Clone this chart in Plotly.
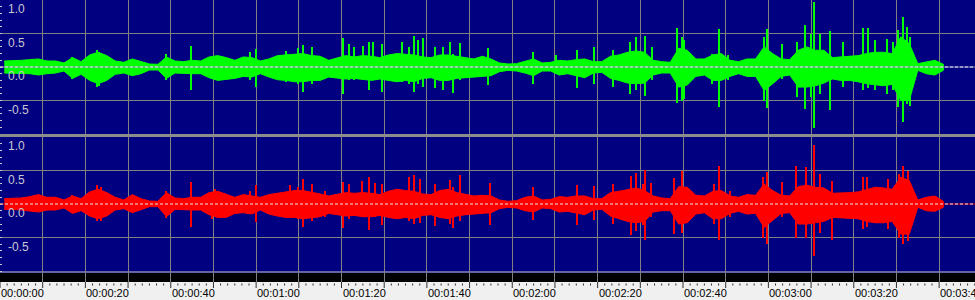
import plotly.graph_objects as go

# ---------------- data ----------------
BIN_S = 2.0          # body envelope bin width, seconds
X_MAX = 228.4        # visible time span, seconds

# Left (green) channel: body envelope per 2 s bin (upper amplitude, lower magnitude)
green_top = [0.09, 0.09, 0.10, 0.11, 0.12, 0.09, 0.09, 0.06, 0.14, 0.08,
             0.18, 0.22, 0.17, 0.09, 0.07, 0.12, 0.08, 0.045, 0.04, 0.15,
             0.09, 0.08, 0.10, 0.09, 0.15, 0.17, 0.14, 0.10, 0.15, 0.14,
             0.09, 0.12, 0.17, 0.18, 0.20, 0.20, 0.17, 0.16, 0.10, 0.14,
             0.17, 0.15, 0.17, 0.16, 0.14, 0.18, 0.20, 0.19, 0.18, 0.15,
             0.14, 0.18, 0.18, 0.16, 0.14, 0.12, 0.16, 0.12, 0.06, 0.045,
             0.05, 0.09, 0.12, 0.06, 0.07, 0.10, 0.09, 0.11, 0.12, 0.08,
             0.08, 0.16, 0.18, 0.22, 0.24, 0.22, 0.10, 0.08, 0.07, 0.28,
             0.25, 0.12, 0.12, 0.18, 0.20, 0.10, 0.08, 0.12, 0.12, 0.30,
             0.20, 0.12, 0.11, 0.25, 0.30, 0.25, 0.25, 0.14, 0.15, 0.16,
             0.17, 0.20, 0.22, 0.22, 0.20, 0.45, 0.35, 0.05, 0.08, 0.10,
             0.04]
green_bot = [0.09, 0.09, 0.10, 0.10, 0.12, 0.10, 0.09, 0.06, 0.17, 0.11,
             0.20, 0.25, 0.20, 0.11, 0.09, 0.13, 0.10, 0.045, 0.045, 0.17,
             0.09, 0.09, 0.10, 0.10, 0.16, 0.20, 0.18, 0.17, 0.14, 0.15,
             0.10, 0.15, 0.19, 0.20, 0.22, 0.22, 0.20, 0.20, 0.15, 0.17,
             0.18, 0.17, 0.19, 0.20, 0.18, 0.20, 0.22, 0.20, 0.22, 0.17,
             0.16, 0.20, 0.20, 0.17, 0.16, 0.14, 0.14, 0.13, 0.07, 0.05,
             0.06, 0.09, 0.13, 0.06, 0.06, 0.12, 0.10, 0.13, 0.16, 0.09,
             0.08, 0.17, 0.20, 0.24, 0.25, 0.24, 0.12, 0.09, 0.09, 0.30,
             0.27, 0.14, 0.12, 0.20, 0.20, 0.14, 0.10, 0.14, 0.14, 0.35,
             0.25, 0.14, 0.12, 0.30, 0.30, 0.28, 0.24, 0.18, 0.20, 0.20,
             0.22, 0.25, 0.27, 0.28, 0.26, 0.50, 0.50, 0.05, 0.10, 0.12,
             0.05]

# Left channel spikes: time (s), upper peak, lower peak magnitude
green_spike_t = [16.9, 22.7, 23.2, 38.9, 44.8, 58.6, 60.0, 67.0, 69.8, 71.0,
                 73.1, 80.4, 81.8, 82.9, 85.1, 86.5, 87.4, 89.5, 94.2, 95.8,
                 97.0, 97.9, 99.1, 101.9, 103.8, 105.4, 106.1, 107.8, 114.3, 124.9,
                 130.3, 135.2, 139.2, 143.6, 147.6, 149.0, 151.1, 152.8, 158.6, 159.8,
                 160.3, 166.8, 168.5, 170.6, 179.0, 179.7, 183.2, 186.7, 188.6, 190.0,
                 190.7, 192.1, 194.5, 197.5, 202.2, 203.4, 205.0, 207.8, 209.2, 210.4,
                 211.6, 212.5, 213.2]
green_spike_top = [0.15, 0.25, 0.22, 0.20, 0.31, 0.23, 0.27, 0.24, 0.28, 0.33,
                   0.30, 0.44, 0.35, 0.30, 0.32, 0.37, 0.38, 0.35, 0.38, 0.30,
                   0.47, 0.40, 0.43, 0.30, 0.30, 0.38, 0.20, 0.36, 0.28, 0.23,
                   0.18, 0.26, 0.30, 0.26, 0.38, 0.45, 0.46, 0.30, 0.58, 0.45,
                   0.40, 0.20, 0.57, 0.18, 0.45, 0.56, 0.35, 0.38, 0.63, 0.50,
                   0.975, 0.50, 0.53, 0.38, 0.58, 0.58, 0.40, 0.42, 0.38, 0.55,
                   0.75, 0.60, 0.45]
green_spike_bot = [0.18, 0.30, 0.28, 0.20, 0.34, 0.20, 0.30, 0.22, 0.25, 0.37,
                   0.26, 0.40, 0.20, 0.20, 0.18, 0.34, 0.20, 0.37, 0.22, 0.25,
                   0.37, 0.25, 0.30, 0.32, 0.34, 0.20, 0.39, 0.20, 0.27, 0.25,
                   0.10, 0.32, 0.25, 0.30, 0.40, 0.35, 0.44, 0.20, 0.54, 0.50,
                   0.48, 0.25, 0.59, 0.20, 0.50, 0.61, 0.18, 0.45, 0.62, 0.45,
                   0.91, 0.40, 0.64, 0.30, 0.35, 0.32, 0.35, 0.40, 0.35, 0.60,
                   0.82, 0.55, 0.58]

# Right (red) channel
red_top = [0.08, 0.08, 0.09, 0.11, 0.14, 0.10, 0.10, 0.06, 0.12, 0.08,
           0.18, 0.22, 0.17, 0.10, 0.06, 0.14, 0.08, 0.045, 0.04, 0.17,
           0.09, 0.08, 0.10, 0.10, 0.17, 0.19, 0.15, 0.10, 0.14, 0.12,
           0.10, 0.14, 0.16, 0.17, 0.20, 0.20, 0.18, 0.15, 0.12, 0.15,
           0.17, 0.16, 0.17, 0.16, 0.14, 0.19, 0.22, 0.20, 0.19, 0.15,
           0.14, 0.20, 0.22, 0.17, 0.14, 0.12, 0.13, 0.12, 0.06, 0.04,
           0.05, 0.10, 0.12, 0.06, 0.07, 0.11, 0.10, 0.12, 0.12, 0.08,
           0.08, 0.17, 0.19, 0.22, 0.24, 0.20, 0.12, 0.09, 0.08, 0.26,
           0.25, 0.13, 0.12, 0.19, 0.20, 0.12, 0.10, 0.14, 0.13, 0.30,
           0.20, 0.13, 0.12, 0.26, 0.28, 0.25, 0.24, 0.16, 0.16, 0.17,
           0.18, 0.22, 0.25, 0.24, 0.22, 0.40, 0.35, 0.06, 0.10, 0.12,
           0.04]
red_bot = [0.08, 0.08, 0.09, 0.10, 0.12, 0.09, 0.09, 0.06, 0.14, 0.10,
           0.18, 0.22, 0.18, 0.09, 0.07, 0.13, 0.09, 0.04, 0.04, 0.19,
           0.08, 0.08, 0.09, 0.09, 0.16, 0.20, 0.20, 0.14, 0.13, 0.15,
           0.09, 0.15, 0.18, 0.20, 0.20, 0.22, 0.20, 0.19, 0.14, 0.16,
           0.18, 0.17, 0.19, 0.19, 0.17, 0.20, 0.22, 0.20, 0.22, 0.17,
           0.16, 0.20, 0.22, 0.18, 0.16, 0.14, 0.14, 0.13, 0.07, 0.05,
           0.06, 0.10, 0.12, 0.06, 0.07, 0.12, 0.11, 0.14, 0.16, 0.09,
           0.08, 0.18, 0.22, 0.26, 0.28, 0.26, 0.12, 0.10, 0.10, 0.30,
           0.28, 0.15, 0.13, 0.22, 0.22, 0.14, 0.11, 0.15, 0.14, 0.35,
           0.25, 0.14, 0.13, 0.30, 0.30, 0.28, 0.26, 0.20, 0.20, 0.21,
           0.22, 0.26, 0.28, 0.28, 0.26, 0.45, 0.45, 0.05, 0.10, 0.11,
           0.05]

red_spike_t = [16.9, 22.7, 23.7, 38.9, 44.8, 49.7, 50.4, 58.6, 60.0, 67.9,
               69.8, 71.0, 73.1, 76.1, 80.4, 81.8, 84.8, 86.5, 87.9, 89.5,
               95.8, 97.0, 98.4, 101.9, 105.4, 106.1, 107.8, 114.8, 124.9, 135.2,
               139.2, 143.6, 147.8, 149.0, 150.7, 151.1, 152.5, 157.9, 159.8, 167.3,
               168.5, 171.0, 178.8, 179.7, 183.2, 186.5, 188.8, 190.7, 192.1, 194.9,
               202.2, 203.1, 208.1, 210.6, 211.6, 212.7]
red_spike_top = [0.13, 0.28, 0.25, 0.20, 0.33, 0.18, 0.23, 0.20, 0.28, 0.28,
                 0.25, 0.37, 0.30, 0.20, 0.33, 0.30, 0.34, 0.41, 0.32, 0.30,
                 0.41, 0.43, 0.38, 0.30, 0.36, 0.25, 0.43, 0.31, 0.26, 0.28,
                 0.27, 0.30, 0.42, 0.47, 0.30, 0.51, 0.31, 0.39, 0.49, 0.30,
                 0.57, 0.20, 0.40, 0.48, 0.33, 0.57, 0.55, 0.88, 0.45, 0.35,
                 0.41, 0.40, 0.38, 0.45, 0.56, 0.50]
red_spike_bot = [0.14, 0.25, 0.26, 0.21, 0.35, 0.22, 0.15, 0.14, 0.27, 0.20,
                 0.22, 0.35, 0.25, 0.19, 0.36, 0.22, 0.20, 0.39, 0.20, 0.32,
                 0.25, 0.30, 0.29, 0.33, 0.30, 0.36, 0.25, 0.31, 0.24, 0.31,
                 0.24, 0.30, 0.46, 0.40, 0.32, 0.53, 0.20, 0.45, 0.44, 0.30,
                 0.54, 0.20, 0.50, 0.59, 0.20, 0.50, 0.50, 0.78, 0.44, 0.53,
                 0.38, 0.35, 0.38, 0.50, 0.60, 0.55]

amp_labels = ["1.0", "0.5", "0.0", "-0.5"]
amp_values = [1.0, 0.5, 0.0, -0.5]
time_label_secs = [0, 20, 40, 60, 80, 100, 120, 140, 160, 180, 200, 220]
time_labels = ["00:00:00", "00:00:20", "00:00:40", "00:01:00", "00:01:20", "00:01:40",
               "00:02:00", "00:02:20", "00:02:40", "00:03:00", "00:03:20", "00:03:40"]

# ---------------- styling ----------------
GREEN = "#00ff00"
RED = "#ff0000"
NAVY = "#000080"
GRID = "#808080"
LABEL = "#c8c8d0"
H = 300.0
Y2_MIN = 1.0 - 145.0 / 67.0   # bottom panel extends over the black strip

fig = go.Figure()


def add_channel(top, bot, st, stop, sbot, color, yaxis, xaxis):
    t = [BIN_S * k + BIN_S / 2 for k in range(len(top))]
    xs = t + t[::-1]
    ys = list(top) + [-b for b in bot][::-1]
    fig.add_trace(go.Scatter(x=xs, y=ys, mode="lines", fill="toself",
                             fillcolor=color, line=dict(color=color, width=1),
                             xaxis=xaxis, yaxis=yaxis, hoverinfo="skip"))
    fig.add_trace(go.Bar(x=st, y=[a + b for a, b in zip(stop, sbot)],
                         base=[-b for b in sbot], width=0.32,
                         marker=dict(color=color, line=dict(width=0)),
                         xaxis=xaxis, yaxis=yaxis, hoverinfo="skip"))


add_channel(green_top, green_bot, green_spike_t, green_spike_top, green_spike_bot,
            GREEN, "y", "x")
add_channel(red_top, red_bot, red_spike_t, red_spike_top, red_spike_bot,
            RED, "y2", "x2")

shapes = []
# separator between the channels
shapes.append(dict(type="rect", xref="paper", yref="paper", x0=0, x1=1,
                   y0=163 / H, y1=166 / H, fillcolor="#8c8c8c", line=dict(width=0)))
# black strip + light rule under the red channel
shapes.append(dict(type="rect", xref="x2", yref="y2", x0=0, x1=X_MAX,
                   y0=Y2_MIN, y1=-1.03, fillcolor="#000000", line=dict(width=0),
                   layer="below"))
shapes.append(dict(type="line", xref="x2", yref="y2", x0=0, x1=X_MAX,
                   y0=-1.015, y1=-1.015, line=dict(color="#c8c8c8", width=1),
                   layer="below"))
# center lines
for yr, base in (("y", "#9090c8"), ("y2", RED)):
    shapes.append(dict(type="line", xref="paper", yref=yr, x0=0, x1=1, y0=0, y1=0,
                       line=dict(color=base, width=1)))
    shapes.append(dict(type="line", xref="paper", yref=yr, x0=0, x1=1, y0=0, y1=0,
                       line=dict(color="#e8e8e8", width=1, dash="3px,2px")))
# time ruler ticks
for k in range(0, 138):
    s = k * 10.0 / 6.0
    if s > X_MAX:
        break
    if k % 6 == 0:
        shapes.append(dict(type="line", xref="x2", yref="paper", x0=s, x1=s,
                           y0=18 / H, y1=12 / H, line=dict(color="#303030", width=1)))
    else:
        shapes.append(dict(type="line", xref="x2", yref="paper", x0=s, x1=s,
                           y0=16.5 / H, y1=14.5 / H, line=dict(color="#303030", width=1)))

annotations = []
for yr in ("y", "y2"):
    for txt, v in zip(amp_labels, amp_values):
        annotations.append(dict(xref="paper", yref=yr, x=5.5 / 975, y=v,
                                xanchor="left", yanchor="top", text=txt,
                                showarrow=False,
                                font=dict(family="Liberation Sans", size=12, color=LABEL)))
for s, txt in zip(time_label_secs, time_labels):
    annotations.append(dict(xref="x2", yref="paper", x=s, y=7 / H, xanchor="left",
                            yanchor="middle", text=txt, showarrow=False, xshift=-1,
                            font=dict(family="Liberation Sans", size=11, color="#000000")))

minor_vals = [round(-1.0 + 0.1 * i, 1) for i in range(21)]
yaxis_common = dict(tickmode="array", tickvals=[-0.5, 0.5], showgrid=True,
                    gridcolor=GRID, gridwidth=1, zeroline=False, showticklabels=False,
                    ticks="inside", ticklen=2, tickcolor=LABEL, showline=False,
                    minor=dict(tickmode="array", tickvals=minor_vals, ticks="inside",
                               ticklen=2, tickcolor=LABEL, showgrid=False),
                    fixedrange=True)
xaxis_common = dict(range=[0, X_MAX], showgrid=True, gridcolor=GRID, gridwidth=1,
                    tick0=0, dtick=10, showticklabels=False, ticks="", zeroline=False,
                    showline=False, fixedrange=True)

fig.update_layout(
    width=975, height=300,
    margin=dict(l=0, r=0, t=0, b=0, pad=0),
    paper_bgcolor="#f0f0f0", plot_bgcolor=NAVY,
    showlegend=False, barmode="overlay", bargap=0,
    xaxis=dict(domain=[0, 1], anchor="y", **xaxis_common),
    xaxis2=dict(domain=[0, 1], anchor="y2", matches="x", **xaxis_common),
    yaxis=dict(domain=[166 / H, 1], range=[-1, 1], anchor="x", **yaxis_common),
    yaxis2=dict(domain=[18 / H, 163 / H], range=[Y2_MIN, 1], anchor="x2", **yaxis_common),
    shapes=shapes, annotations=annotations,
)

fig.write_html("out.html")
